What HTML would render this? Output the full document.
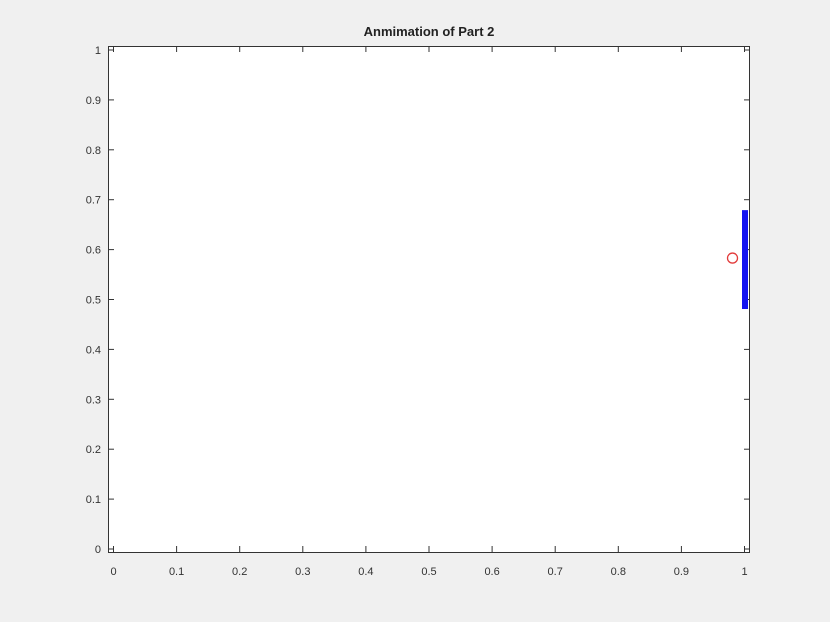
<!DOCTYPE html>
<html><head><meta charset="utf-8"><style>
html,body{margin:0;padding:0;background:#f0f0f0;}
svg{display:block;font-family:"Liberation Sans",Arial,sans-serif;}
</style></head><body>
<svg id="chart" width="830" height="622" viewBox="0 0 830 622">
<rect x="0" y="0" width="830" height="622" fill="#f0f0f0"/>
<rect x="108" y="46" width="642" height="506" fill="#fff"/>
<text x="429" y="36" text-anchor="middle" font-size="13" font-weight="bold" fill="#222">Anmimation of Part 2</text>
<g id="ticks"></g>
<g id="marks"></g>
<rect x="108.5" y="46.5" width="641" height="506" fill="none" stroke="#333" stroke-width="1"/>
</svg>
<script>
const xTicks = [0,0.1,0.2,0.3,0.4,0.5,0.6,0.7,0.8,0.9,1];
const yTicks = [0,0.1,0.2,0.3,0.4,0.5,0.6,0.7,0.8,0.9,1];
const xTickLabels = ["0","0.1","0.2","0.3","0.4","0.5","0.6","0.7","0.8","0.9","1"];
const yTickLabels = ["0","0.1","0.2","0.3","0.4","0.5","0.6","0.7","0.8","0.9","1"];
const paddleX = [1];
const paddleY = [0.481, 0.679];
const ballX = [0.981];
const ballY = [0.583];

const NS = "http://www.w3.org/2000/svg";
function sx(v){ return 113.5 + v*631; }
function sy(v){ return 549 - v*499; }
function mk(tag, attrs, parent){
  const e = document.createElementNS(NS, tag);
  for (const k in attrs) e.setAttribute(k, attrs[k]);
  parent.appendChild(e);
  return e;
}
const tg = document.getElementById('ticks');
xTicks.forEach((v,i)=>{
  const x = sx(v);
  const t1 = mk('line',{x1:x,x2:x,y1:552,y2:546,stroke:'#333'},tg);
  
  
  const t2 = mk('line',{x1:x,x2:x,y1:46,y2:52,stroke:'#333'},tg);
  
  
  const l = mk('text',{x:x,y:575,'text-anchor':'middle','font-size':'11',fill:'#333'},tg);
  l.textContent = xTickLabels[i];
  
  
});
yTicks.forEach((v,i)=>{
  const y = sy(v);
  const t1 = mk('line',{x1:108,x2:114,y1:y,y2:y,stroke:'#333'},tg);
  
  
  const t2 = mk('line',{x1:750,x2:744,y1:y,y2:y,stroke:'#333'},tg);
  
  
  const l = mk('text',{x:101,y:y+4,'text-anchor':'end','font-size':'11',fill:'#333'},tg);
  l.textContent = yTickLabels[i];
  
  
});
const mg = document.getElementById('marks');
const p = mk('line',{x1:sx(paddleX[0])+0.5,x2:sx(paddleX[0])+0.5,y1:sy(paddleY[0]),y2:sy(paddleY[1]),stroke:'#1414f0','stroke-width':6},mg);


const b = mk('circle',{cx:sx(ballX[0]),cy:sy(ballY[0]),r:5,fill:'none',stroke:'#e23a3a','stroke-width':1.3},mg);


</script>
</body></html>
